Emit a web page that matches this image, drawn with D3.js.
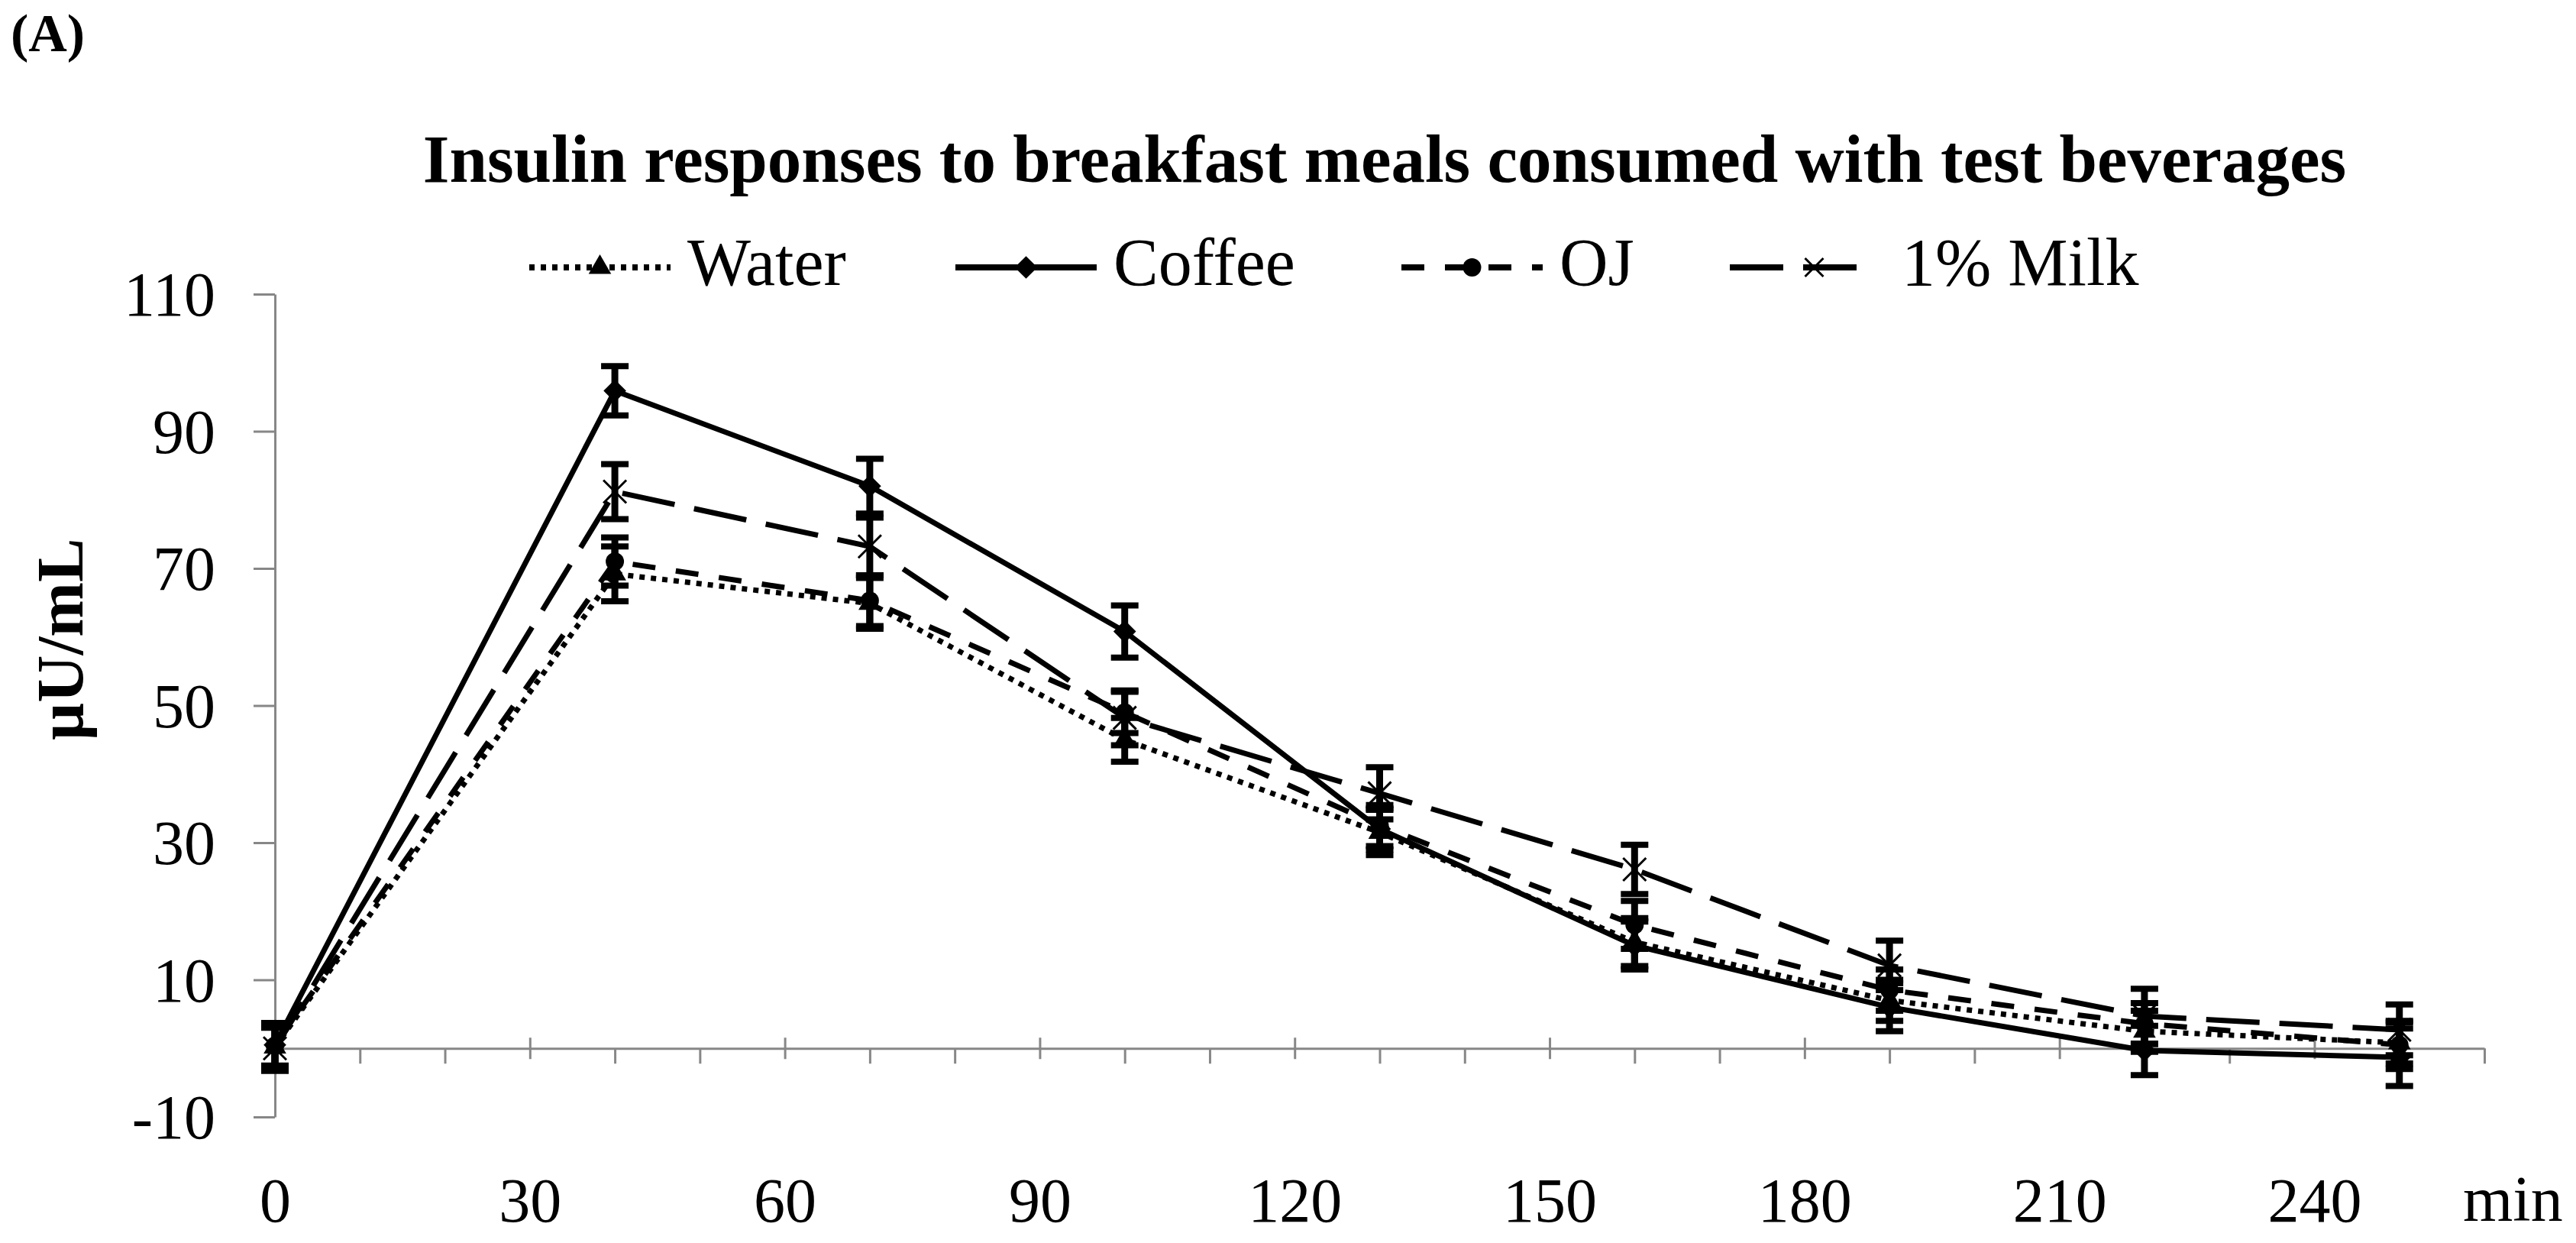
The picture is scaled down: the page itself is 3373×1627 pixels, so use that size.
<!DOCTYPE html>
<html>
<head>
<meta charset="utf-8">
<script src="https://cdn.jsdelivr.net/npm/d3@7"></script>
<style>
  body { margin: 0; background: #fff; }
  text { font-family: "Liberation Serif", "Times New Roman", serif; fill: #000; }
</style>
</head>
<body>
<div id="plot"></div>
<script>
var width = 3373;
var height = 1627;

// sampling times (min)
var times = [0, 40, 70, 100, 130, 160, 190, 220, 250];

// insulin (uU/mL) means
var water  = [0.2, 69.2, 64.9, 45.0, 31.5, 15.5, 7.0, 2.5, 0.8];
var coffee = [0.5, 95.9, 82.0, 60.8, 32.0, 15.0, 6.0, -0.3, -1.3];
var oj     = [0.4, 71.0, 65.3, 49.0, 32.5, 18.0, 8.5, 3.6, 0.5];
var milk   = [0.0, 81.2, 73.2, 48.2, 37.2, 26.1, 12.1, 4.7, 2.7];

// error bars (SEM)
var water_se  = [3.5, 4.0, 3.7, 3.2, 3.3, 3.5, 3.0, 3.0, 3.0];
var coffee_se = [3.0, 3.6, 4.0, 3.8, 3.0, 3.5, 3.5, 3.6, 4.2];
var oj_se     = [3.2, 3.5, 3.7, 3.0, 3.0, 3.5, 3.0, 3.0, 3.5];
var milk_se   = [3.0, 4.0, 4.2, 4.0, 3.8, 3.6, 3.6, 4.0, 3.7];

var names = ['Water', 'Coffee', 'OJ', '1% Milk'];
var y_ticks = [-10, 10, 30, 50, 70, 90, 110];
var x_major = [0, 30, 60, 90, 120, 150, 180, 210, 240];
var x_minor = [10, 20, 40, 50, 70, 80, 100, 110, 130, 140, 160, 170, 190, 200, 220, 230, 250, 260];

var axis_color = '#878787';

var series = [
    { name: names[0], values: water,  se: water_se,  dash: '7,8',   marker: 'triangle' },
    { name: names[1], values: coffee, se: coffee_se, dash: null,    marker: 'diamond' },
    { name: names[2], values: oj,     se: oj_se,     dash: '30,27', marker: 'circle' },
    { name: names[3], values: milk,   se: milk_se,   dash: '70,26', marker: 'x' }
];

var canvas = d3.select('#plot')
    .append('svg')
    .attr('width', width)
    .attr('height', height);

var x_scale = d3.scaleLinear()
    .domain([0, 260])
    .range([360, 3253]);

var y_scale = d3.scaleLinear()
    .domain([-10, 110])
    .range([1462, 385]);

// panel letter
canvas.append('text')
    .attr('x', 14)
    .attr('y', 67)
    .attr('font-size', 70)
    .attr('font-weight', 'bold')
    .text('(A)');

// title
canvas.append('text')
    .attr('x', 1813)
    .attr('y', 238)
    .attr('text-anchor', 'middle')
    .attr('font-size', 89)
    .attr('font-weight', 'bold')
    .text('Insulin responses to breakfast meals consumed with test beverages');

// y axis
var y_axis = d3.axisLeft(y_scale)
    .tickValues(y_ticks)
    .tickSizeInner(28)
    .tickSizeOuter(0)
    .tickPadding(50)
    .tickFormat(function(d) { return String(d); });

var gy = canvas.append('g')
    .attr('class', 'y-axis')
    .attr('transform', 'translate(' + x_scale(0) + ',0)')
    .call(y_axis);

// x axis: minor ticks below, major ticks crossing
var y0 = y_scale(0);
var x_minor_axis = d3.axisBottom(x_scale)
    .tickValues(x_minor)
    .tickSizeInner(20)
    .tickSizeOuter(0)
    .tickFormat('');

var gx1 = canvas.append('g')
    .attr('class', 'x-axis-minor')
    .attr('transform', 'translate(0,' + y0 + ')')
    .call(x_minor_axis);

var x_major_axis = d3.axisBottom(x_scale)
    .tickValues(x_major)
    .tickSizeInner(28)
    .tickSizeOuter(0)
    .tickPadding(155)
    .tickFormat(function(d) { return String(d); });

var gx2 = canvas.append('g')
    .attr('class', 'x-axis-major')
    .attr('transform', 'translate(0,' + (y0 - 14) + ')')
    .call(x_major_axis);
gx2.select('.domain').remove();

[gy, gx1, gx2].forEach(function(g) {
    g.selectAll('.domain, line')
        .attr('stroke', axis_color)
        .attr('stroke-width', 3);
    g.selectAll('text')
        .attr('font-size', 82)
        .attr('font-family', '"Liberation Serif", "Times New Roman", serif')
        .attr('fill', '#000');
});
gy.selectAll('text').attr('dy', '0.34em');

canvas.append('text')
    .attr('x', 3225)
    .attr('y', 1598)
    .attr('font-size', 84)
    .text('min');

// y label
canvas.append('text')
    .attr('transform', 'translate(108,837) rotate(-90)')
    .attr('text-anchor', 'middle')
    .attr('font-size', 86)
    .attr('font-weight', 'bold')
    .text('\u00b5U/mL');

// lines
var line_gen = d3.line()
    .x(function(d) { return x_scale(d[0]); })
    .y(function(d) { return y_scale(d[1]); });

series.forEach(function(s) {
    var pts = times.map(function(t, i) { return [t, s.values[i]]; });
    canvas.append('path')
        .attr('class', 'series-line')
        .attr('d', line_gen(pts))
        .attr('fill', 'none')
        .attr('stroke', '#000')
        .attr('stroke-width', 7)
        .attr('stroke-dasharray', s.dash);
});

// error bars
var cap = 18;
series.forEach(function(s) {
    var g = canvas.append('g').attr('class', 'err');
    times.forEach(function(t, i) {
        var cx = x_scale(t);
        var hi = y_scale(s.values[i] + s.se[i]);
        var lo = y_scale(s.values[i] - s.se[i]);
        g.append('line')
            .attr('x1', cx).attr('x2', cx)
            .attr('y1', hi).attr('y2', lo)
            .attr('stroke', '#000').attr('stroke-width', 9);
        [hi, lo].forEach(function(yy) {
            g.append('line')
                .attr('x1', cx - cap).attr('x2', cx + cap)
                .attr('y1', yy).attr('y2', yy)
                .attr('stroke', '#000').attr('stroke-width', 8);
        });
    });
});

// markers
function drawMarker(g, kind, cx, cy, scale) {
    scale = scale || 1;
    if (kind === 'triangle') {
        g.append('path')
            .attr('d', d3.symbol(d3.symbolTriangle).size(380 * scale * scale)())
            .attr('transform', 'translate(' + cx + ',' + cy + ')')
            .attr('fill', '#000');
    } else if (kind === 'diamond') {
        g.append('path')
            .attr('d', d3.symbol(d3.symbolSquare).size(440 * scale * scale)())
            .attr('transform', 'translate(' + cx + ',' + cy + ') rotate(45)')
            .attr('fill', '#000');
    } else if (kind === 'circle') {
        g.append('path')
            .attr('d', d3.symbol(d3.symbolCircle).size(450 * scale * scale)())
            .attr('transform', 'translate(' + cx + ',' + cy + ')')
            .attr('fill', '#000');
    } else {
        var r = 15 * scale;
        g.append('path')
            .attr('d', 'M' + (-r) + ',' + (-r) + 'L' + r + ',' + r + 'M' + r + ',' + (-r) + 'L' + (-r) + ',' + r)
            .attr('transform', 'translate(' + cx + ',' + cy + ')')
            .attr('fill', 'none')
            .attr('stroke', '#000')
            .attr('stroke-width', 3);
    }
}

series.forEach(function(s) {
    var g = canvas.append('g').attr('class', 'markers');
    times.forEach(function(t, i) {
        drawMarker(g, s.marker, x_scale(t), y_scale(s.values[i]));
    });
});

// legend
var legend_x = [693, 1251, 1835, 2265];
var legend_y = 350;
var sample_len = 185;
series.forEach(function(s, i) {
    var g = canvas.append('g').attr('class', 'legend');
    var lx = legend_x[i];
    g.append('line')
        .attr('x1', lx).attr('x2', lx + sample_len)
        .attr('y1', legend_y).attr('y2', legend_y)
        .attr('stroke', '#000')
        .attr('stroke-width', 8)
        .attr('stroke-dasharray', s.dash);
    drawMarker(g, s.marker, lx + sample_len / 2 + (s.marker === 'x' ? 18 : 0), legend_y, s.marker === 'x' ? 0.8 : 1);
    g.append('text')
        .attr('x', lx + sample_len + (i === 3 ? 40 : 22))
        .attr('y', 373)
        .attr('font-size', 88)
        .text(s.name);
});
</script>
</body>
</html>
